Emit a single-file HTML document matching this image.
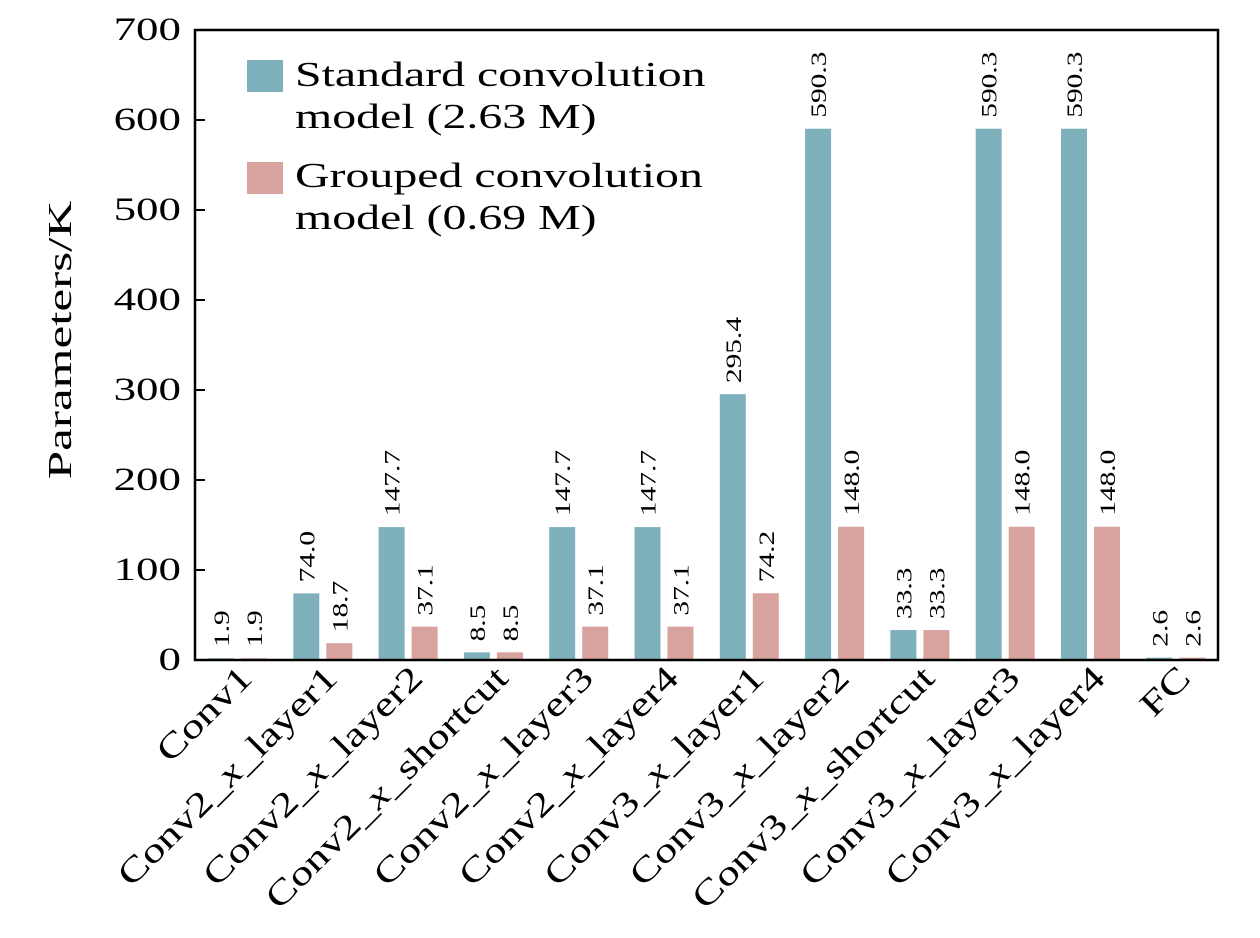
<!DOCTYPE html>
<html><head><style>html,body{margin:0;padding:0;background:#fff}</style></head>
<body>
<svg width="1260" height="933" xmlns="http://www.w3.org/2000/svg" font-family="Liberation Serif, serif">
<rect width="1260" height="933" fill="#fff"/>
<g fill="#7fb1bd">
<rect x="208" y="658.29" width="26" height="1.71"/>
<rect x="293.3" y="593.4" width="26" height="66.6"/>
<rect x="378.6" y="527.07" width="26" height="132.93"/>
<rect x="463.9" y="652.35" width="26" height="7.65"/>
<rect x="549.2" y="527.07" width="26" height="132.93"/>
<rect x="634.5" y="527.07" width="26" height="132.93"/>
<rect x="719.8" y="394.14" width="26" height="265.86"/>
<rect x="805.1" y="128.73" width="26" height="531.27"/>
<rect x="890.4" y="630.03" width="26" height="29.97"/>
<rect x="975.7" y="128.73" width="26" height="531.27"/>
<rect x="1061" y="128.73" width="26" height="531.27"/>
<rect x="1146.3" y="657.66" width="26" height="2.34"/>
</g>
<g fill="#d8a29f">
<rect x="241" y="658.29" width="26" height="1.71"/>
<rect x="326.3" y="643.17" width="26" height="16.83"/>
<rect x="411.6" y="626.61" width="26" height="33.39"/>
<rect x="496.9" y="652.35" width="26" height="7.65"/>
<rect x="582.2" y="626.61" width="26" height="33.39"/>
<rect x="667.5" y="626.61" width="26" height="33.39"/>
<rect x="752.8" y="593.22" width="26" height="66.78"/>
<rect x="838.1" y="526.8" width="26" height="133.2"/>
<rect x="923.4" y="630.03" width="26" height="29.97"/>
<rect x="1008.7" y="526.8" width="26" height="133.2"/>
<rect x="1094" y="526.8" width="26" height="133.2"/>
<rect x="1179.3" y="657.66" width="26" height="2.34"/>
</g>
<g font-size="21">
<text transform="translate(229,647) rotate(-90) scale(1.4,1.05)">1.9</text>
<text transform="translate(262,647) rotate(-90) scale(1.4,1.05)">1.9</text>
<text transform="translate(314.3,582.4) rotate(-90) scale(1.4,1.05)">74.0</text>
<text transform="translate(347.3,632.2) rotate(-90) scale(1.4,1.05)">18.7</text>
<text transform="translate(399.6,516.1) rotate(-90) scale(1.4,1.05)">147.7</text>
<text transform="translate(432.6,615.6) rotate(-90) scale(1.4,1.05)">37.1</text>
<text transform="translate(484.9,641.4) rotate(-90) scale(1.4,1.05)">8.5</text>
<text transform="translate(517.9,641.4) rotate(-90) scale(1.4,1.05)">8.5</text>
<text transform="translate(570.2,516.1) rotate(-90) scale(1.4,1.05)">147.7</text>
<text transform="translate(603.2,615.6) rotate(-90) scale(1.4,1.05)">37.1</text>
<text transform="translate(655.5,516.1) rotate(-90) scale(1.4,1.05)">147.7</text>
<text transform="translate(688.5,615.6) rotate(-90) scale(1.4,1.05)">37.1</text>
<text transform="translate(740.8,383.1) rotate(-90) scale(1.4,1.05)">295.4</text>
<text transform="translate(773.8,582.2) rotate(-90) scale(1.4,1.05)">74.2</text>
<text transform="translate(826.1,117.7) rotate(-90) scale(1.4,1.05)">590.3</text>
<text transform="translate(859.1,515.8) rotate(-90) scale(1.4,1.05)">148.0</text>
<text transform="translate(911.4,619) rotate(-90) scale(1.4,1.05)">33.3</text>
<text transform="translate(944.4,619) rotate(-90) scale(1.4,1.05)">33.3</text>
<text transform="translate(996.7,117.7) rotate(-90) scale(1.4,1.05)">590.3</text>
<text transform="translate(1029.7,515.8) rotate(-90) scale(1.4,1.05)">148.0</text>
<text transform="translate(1082,117.7) rotate(-90) scale(1.4,1.05)">590.3</text>
<text transform="translate(1115,515.8) rotate(-90) scale(1.4,1.05)">148.0</text>
<text transform="translate(1167.3,646.7) rotate(-90) scale(1.4,1.05)">2.6</text>
<text transform="translate(1200.3,646.7) rotate(-90) scale(1.4,1.05)">2.6</text>
</g>
<g font-size="33" text-anchor="end">
<text transform="translate(254,680) rotate(-45) scale(1.35,1.05)">Conv1</text>
<text transform="translate(339.3,680) rotate(-45) scale(1.35,1.05)">Conv2_<tspan font-style="italic">x</tspan>_layer1</text>
<text transform="translate(424.6,680) rotate(-45) scale(1.35,1.05)">Conv2_<tspan font-style="italic">x</tspan>_layer2</text>
<text transform="translate(509.9,680) rotate(-45) scale(1.35,1.05)">Conv2_<tspan font-style="italic">x</tspan>_shortcut</text>
<text transform="translate(595.2,680) rotate(-45) scale(1.35,1.05)">Conv2_<tspan font-style="italic">x</tspan>_layer3</text>
<text transform="translate(680.5,680) rotate(-45) scale(1.35,1.05)">Conv2_<tspan font-style="italic">x</tspan>_layer4</text>
<text transform="translate(765.8,680) rotate(-45) scale(1.35,1.05)">Conv3_<tspan font-style="italic">x</tspan>_layer1</text>
<text transform="translate(851.1,680) rotate(-45) scale(1.35,1.05)">Conv3_<tspan font-style="italic">x</tspan>_layer2</text>
<text transform="translate(936.4,680) rotate(-45) scale(1.35,1.05)">Conv3_<tspan font-style="italic">x</tspan>_shortcut</text>
<text transform="translate(1021.7,680) rotate(-45) scale(1.35,1.05)">Conv3_<tspan font-style="italic">x</tspan>_layer3</text>
<text transform="translate(1107,680) rotate(-45) scale(1.35,1.05)">Conv3_<tspan font-style="italic">x</tspan>_layer4</text>
<text transform="translate(1192.3,680) rotate(-45) scale(1.35,1.05)">FC</text>
</g>
<g stroke="#000" stroke-width="2">
<line x1="195" y1="660" x2="205" y2="660"/>
<line x1="195" y1="570" x2="205" y2="570"/>
<line x1="195" y1="480" x2="205" y2="480"/>
<line x1="195" y1="390" x2="205" y2="390"/>
<line x1="195" y1="300" x2="205" y2="300"/>
<line x1="195" y1="210" x2="205" y2="210"/>
<line x1="195" y1="120" x2="205" y2="120"/>
<line x1="195" y1="30" x2="205" y2="30"/>
</g>
<g font-size="31" text-anchor="end">
<text transform="translate(181,670) scale(1.45,1.05)">0</text>
<text transform="translate(181,580) scale(1.45,1.05)">100</text>
<text transform="translate(181,490) scale(1.45,1.05)">200</text>
<text transform="translate(181,400) scale(1.45,1.05)">300</text>
<text transform="translate(181,310) scale(1.45,1.05)">400</text>
<text transform="translate(181,220) scale(1.45,1.05)">500</text>
<text transform="translate(181,130) scale(1.45,1.05)">600</text>
<text transform="translate(181,40) scale(1.45,1.05)">700</text>
</g>
<rect x="195" y="30" width="1023" height="630" fill="none" stroke="#000" stroke-width="2.5"/>
<text transform="translate(71,340) rotate(-90) scale(1.6,1.05)" text-anchor="middle" font-size="32">Parameters/K</text>
<rect x="247" y="60" width="36" height="32" fill="#7fb1bd"/>
<rect x="247" y="162" width="36" height="32" fill="#d8a29f"/>
<g font-size="33">
<text transform="translate(295,86) scale(1.45,1.05)">Standard convolution</text>
<text transform="translate(295,128) scale(1.45,1.05)">model (2.63 M)</text>
<text transform="translate(295,187) scale(1.45,1.05)">Grouped convolution</text>
<text transform="translate(295,229) scale(1.45,1.05)">model (0.69 M)</text>
</g>
</svg>
</body></html>
